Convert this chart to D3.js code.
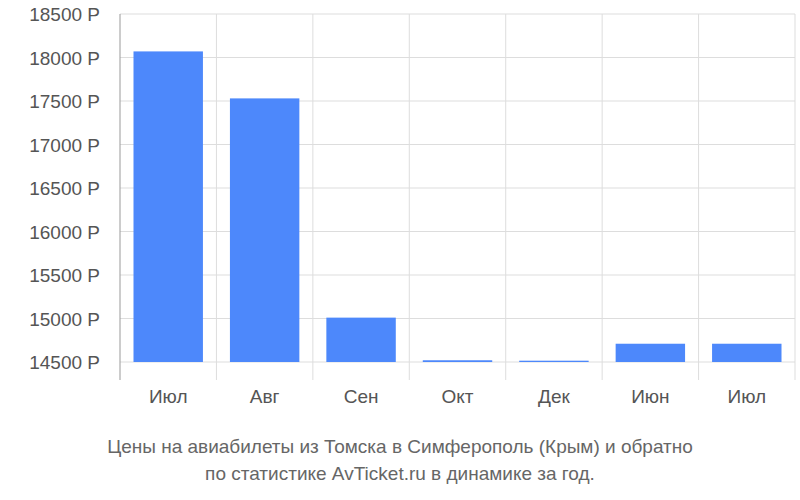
<!DOCTYPE html>
<html><head><meta charset="utf-8">
<script src="https://cdn.jsdelivr.net/npm/d3@7"></script>
<style>body{margin:0;background:#fff}</style></head>
<body><svg id="c" width="800" height="500"></svg>
<script>
const categories = ["Июл","Авг","Сен","Окт","Дек","Июн","Июл"];
const values = [18070, 17530, 15010, 14520, 14515, 14710, 14710];
const yTicks = [14500,15000,15500,16000,16500,17000,17500,18000,18500];
const titleLines = ["Цены на авиабилеты из Томска в Симферополь (Крым) и обратно","по статистике AvTicket.ru в динамике за год."];

const svg = d3.select("#c");
const L=120,R=795,T=14,B=362;
const x = d3.scaleBand().domain(d3.range(categories.length)).range([L,R]).paddingInner(0.28).paddingOuter(0.14);
const xb = d3.scaleLinear().domain([0,categories.length]).range([L,R]);
const y = d3.scaleLinear().domain([14500,18500]).range([B,T]);
const font="Liberation Sans, Arial, sans-serif";

svg.selectAll(".hg").data(yTicks).join("line").attr("x1",L).attr("x2",R)
 .attr("y1",d=>y(d)).attr("y2",d=>y(d)).attr("stroke","#ddd");
svg.selectAll(".vg").data(d3.range(1,categories.length+1)).join("line")
 .attr("x1",d=>xb(d)).attr("x2",d=>xb(d)).attr("y1",T).attr("y2",380).attr("stroke","#ddd");
svg.selectAll(".bar").data(values).join("rect")
 .attr("x",(d,i)=>x(i)).attr("width",x.bandwidth())
 .attr("y",d=>y(d)).attr("height",d=>B-y(d)).attr("fill","#4d88fb");
svg.append("line").attr("x1",L).attr("x2",L).attr("y1",T).attr("y2",380).attr("stroke","#999");
svg.selectAll(".yl").data(yTicks).join("text").attr("x",100).attr("y",d=>y(d)+7)
 .attr("text-anchor","end").attr("font-family",font).attr("font-size",19).attr("fill","#555")
 .text(d=>d+" Р");
svg.selectAll(".xl").data(categories).join("text").attr("x",(d,i)=>x(i)+x.bandwidth()/2).attr("y",403)
 .attr("text-anchor","middle").attr("font-family",font).attr("font-size",19).attr("fill","#555").text(d=>d);
svg.selectAll(".t").data(titleLines).join("text").attr("x",400).attr("y",(d,i)=>453+i*27)
 .attr("text-anchor","middle").attr("font-family",font).attr("font-size",19).attr("fill","#666").text(d=>d);
</script></body></html>
